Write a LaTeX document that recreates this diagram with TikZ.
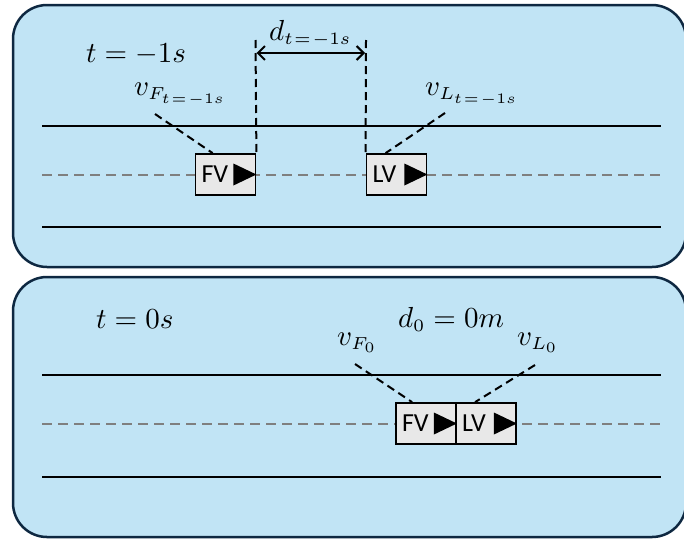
\RequirePackage{fix-cm}
\documentclass[tikz,border=0pt]{standalone}
\usepackage{graphicx}
\usepackage{fontspec}
\newfontfamily\carlito{Carlito}
\usetikzlibrary{arrows.meta}
\DeclareMathSizes{10}{10}{6}{5}
\newcommand{\bigmath}[1]{\scalebox{2.9}{\fontsize{10}{12}\selectfont$#1$}}
\newcommand{\tsub}{t\mkern1.5mu{=}\mkern1.5mu{-}1s}
\definecolor{panelfill}{HTML}{C1E4F5}
\definecolor{paneldraw}{HTML}{0E2841}
\definecolor{boxfill}{HTML}{E8E8E8}
\definecolor{lanegray}{HTML}{7F7F7F}
\tikzset{
  panel/.style={draw=paneldraw, fill=panelfill, line width=2.5pt, rounded corners=34pt},
  road/.style={draw=black, line width=2.3pt},
  lane/.style={draw=lanegray, line width=2.3pt, dash pattern=on 10pt off 6pt},
  guide/.style={draw=black, line width=2pt, dash pattern=on 8pt off 5pt},
  carbox/.style={draw=black, fill=boxfill, line width=1.8pt, minimum height=41pt,
    text width=48pt, inner xsep=6pt, inner ysep=0pt, align=left,
    font=\carlito\fontsize{26}{28}\selectfont},
  mlabel/.style={inner sep=0pt, anchor=base west},
  gaparrow/.style={draw=black, line width=2pt, {Straight Barb[length=7pt,width=14pt]}-{Straight Barb[length=7pt,width=14pt]}}
}
\begin{document}
\begin{tikzpicture}[x=1pt,y=-1pt]
\useasboundingbox (0,0) rectangle (684,541);
% panels
\draw[panel] (13,5) rectangle (686,267);
\draw[panel] (13,277) rectangle (686,537);

% ---------- top panel (t = -1 s) ----------
\draw[road] (42,126) -- (661,126);
\draw[road] (42,227) -- (661,227);
\draw[lane] (42,175) -- (661,175);

\node[carbox] (fv1) at (225.5,174.5) {FV};
\node[carbox] (lv1) at (396.5,174.5) {LV};
\foreach \b in {fv1,lv1}{
  \fill[black] ([xshift=-23pt,yshift=11pt]\b.east) -- ([xshift=-23pt,yshift=-11pt]\b.east) -- (\b.east) -- cycle;
}

\node[mlabel] (t1) at (86,62) {\bigmath{t=-1s}};
\node[mlabel] (d1) at (269,40) {\bigmath{d_{\tsub}}};
\node[mlabel] (vf1) at (134,95) {\bigmath{v_{F_{\tsub}}}};
\node[mlabel] (vl1) at (425,95) {\bigmath{v_{L_{\tsub}}}};

\coordinate (g1a) at (255.5,40);
\coordinate (g1b) at (366,40);
\draw[guide] (g1a) -- (fv1.north east);
\draw[guide] (g1b) -- (lv1.north west);
\coordinate (a1a) at (256.5,53);
\coordinate (a1b) at (365,53);
\draw[gaparrow] (a1a) -- (a1b);

\coordinate (cf1) at (155,114);
\coordinate (cf1e) at ([xshift=18pt]fv1.north west);
\draw[guide] (cf1) -- (cf1e);
\coordinate (cl1) at (445,113);
\coordinate (cl1e) at ([xshift=20pt]lv1.north west);
\draw[guide] (cl1) -- (cl1e);

% ---------- bottom panel (t = 0 s) ----------
\draw[road] (42,375) -- (661,375);
\draw[road] (42,477) -- (661,477);
\draw[lane] (42,424) -- (661,424);

\node[carbox] (fv0) at (426,423.5) {FV};
\node[carbox] (lv0) at (486,423.5) {LV};
\foreach \b in {fv0,lv0}{
  \fill[black] ([xshift=-23pt,yshift=11pt]\b.east) -- ([xshift=-23pt,yshift=-11pt]\b.east) -- (\b.east) -- cycle;
}

\node[mlabel] (t0) at (96,328) {\bigmath{t=0s}};
\node[mlabel] (d0) at (398,327) {\bigmath{d_0=0m}};
\node[mlabel] (vf0) at (337,345) {\bigmath{v_{F_0}}};
\node[mlabel] (vl0) at (517,345) {\bigmath{v_{L_0}}};

\coordinate (cf0) at (355,364);
\coordinate (cf0e) at ([xshift=17pt]fv0.north west);
\draw[guide] (cf0) -- (cf0e);
\coordinate (cl0) at (535,365);
\coordinate (cl0e) at ([xshift=20pt]lv0.north west);
\draw[guide] (cl0) -- (cl0e);
\end{tikzpicture}
\end{document}
